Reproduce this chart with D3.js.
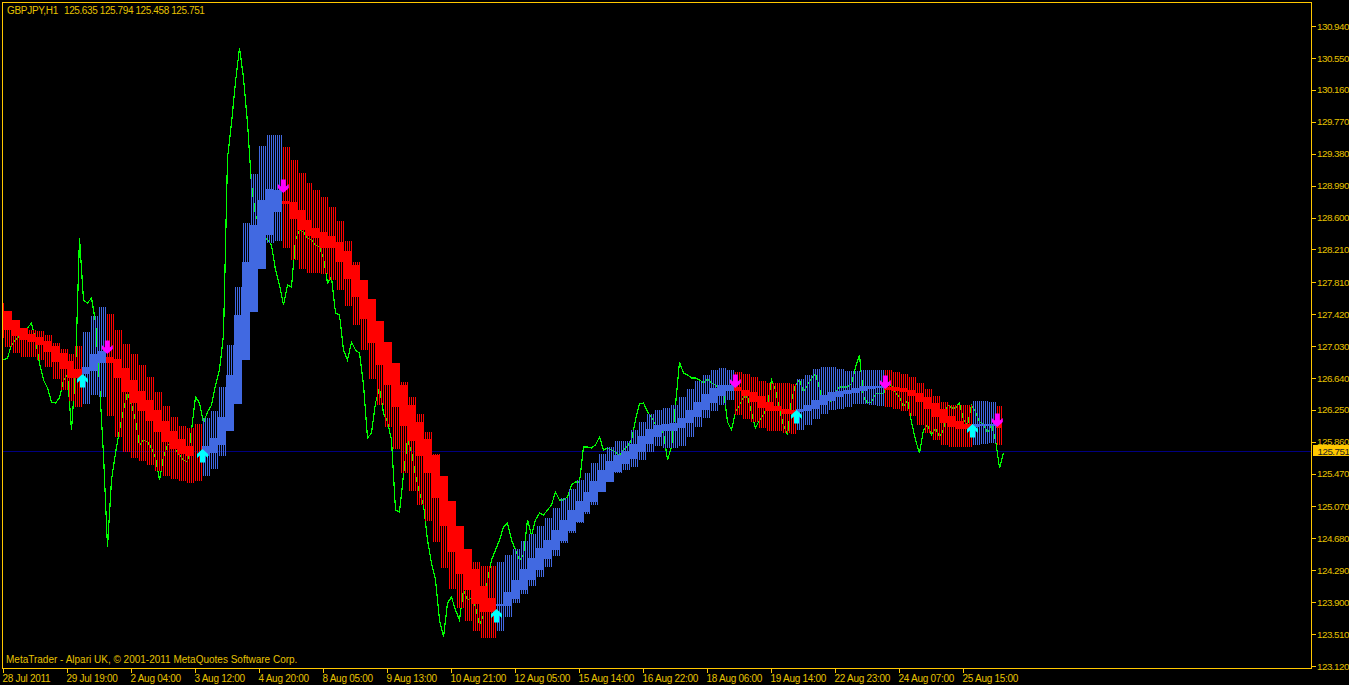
<!DOCTYPE html>
<html>
<head>
<meta charset="utf-8">
<script src="https://cdn.jsdelivr.net/npm/d3@7/dist/d3.min.js"></script>
<style>
html,body{margin:0;padding:0;background:#000;overflow:hidden}
svg{display:block}
text{font-family:"Liberation Sans",Arial,sans-serif;font-size:10px;fill:#e6c200}
.num text,text.num{font-size:9.8px;letter-spacing:-.5px}
.time text{letter-spacing:-.28px}
</style>
</head>
<body>
<svg id="chart" width="1349" height="685"></svg>
<script>
const symbol = "GBPJPY,H1";
const ohlc = "125.635 125.794 125.458 125.751";
const footer = "MetaTrader - Alpari UK, \u00a9 2001-2011 MetaQuotes Software Corp.";
const lastPrice = 125.751;
const priceTicks = [130.94,130.55,130.16,129.77,129.38,128.99,128.6,128.21,127.81,127.42,127.03,126.64,126.25,125.86,125.47,125.07,124.68,124.29,123.9,123.51,123.12];
const timeTicks = ["28 Jul 2011","29 Jul 19:00","2 Aug 04:00","3 Aug 12:00","4 Aug 20:00","8 Aug 05:00","9 Aug 13:00","10 Aug 21:00","12 Aug 05:00","15 Aug 14:00","16 Aug 22:00","18 Aug 06:00","19 Aug 14:00","22 Aug 23:00","24 Aug 07:00","25 Aug 15:00"];
const timeTickBars = [1,33,65,97,129,161,193,225,257,289,321,353,385,417,449,481];

// H1 close, sampled every second bar from bar 1
const closes = [126.859,126.883,127.042,127.103,127.152,127.200,127.250,127.311,127.103,126.822,126.615,126.517,126.346,126.334,126.395,126.615,126.676,126.004,126.737,128.350,
127.592,127.555,127.616,127.323,126.578,125.698,124.574,125.393,125.722,126.004,126.248,126.456,126.309,126.126,125.820,125.881,125.857,125.784,125.662,125.393,
125.674,125.820,125.845,125.759,125.698,125.637,125.613,126.004,126.407,126.334,126.089,126.224,126.309,126.553,126.737,127.164,129.327,129.755,130.256,130.673,
130.305,129.755,128.998,128.631,128.508,128.386,128.325,128.264,127.959,127.775,127.531,127.775,127.751,128.325,128.447,128.423,128.350,128.325,128.264,128.240,
128.105,127.800,127.873,127.433,127.409,126.981,126.859,127.079,126.981,126.944,126.553,125.906,125.967,126.334,126.517,126.211,126.101,125.881,125.026,125.001,
125.454,125.881,125.735,125.454,125.234,125.087,124.659,124.378,124.171,123.682,123.474,123.890,123.963,123.804,123.682,124.049,123.926,123.951,123.841,123.621,
123.743,124.171,124.415,124.537,124.659,124.818,124.867,124.659,124.537,124.415,124.476,124.904,124.720,124.904,124.989,124.965,125.026,125.087,125.246,125.148,
125.148,125.185,125.332,125.368,125.368,125.796,125.796,125.784,125.820,125.918,125.759,125.784,125.759,125.735,125.698,125.759,125.808,125.881,126.126,126.321,
126.334,126.224,126.163,126.065,126.004,125.967,125.637,125.796,126.309,126.834,126.700,126.676,126.639,126.639,126.615,126.578,126.627,126.578,126.553,126.517,
126.492,126.101,126.004,126.224,126.309,126.407,126.407,126.224,126.028,126.126,126.187,126.309,126.615,126.492,126.248,126.065,125.943,126.370,126.553,126.615,
126.468,126.553,126.639,126.688,126.517,126.309,126.407,126.346,126.468,126.529,126.529,126.529,126.566,126.773,126.920,126.407,126.334,126.346,126.444,126.456,
126.444,126.553,126.553,126.456,126.407,126.285,126.370,126.101,125.881,125.722,126.004,126.065,125.943,126.028,125.918,126.004,126.309,126.273,126.273,126.334,
126.126,126.065,126.309,126.224,126.101,126.077,125.967,126.065,125.881,125.539,125.722];

// indicator steps: first H1 bar of each step
const stepBars = [1,2,6,10,14,18,22,26,30,34,37,
41,45,49,
53,57,61,65,69,73,77,81,85,89,93,97,
101,105,109,113,117,121,125,129,133,137,
141,145,149,153,156,160,164,168,172,176,180,184,188,192,196,200,204,208,212,216,220,224,228,232,236,240,244,
248,252,256,260,264,268,272,276,280,284,288,292,295,299,303,307,311,315,319,323,327,331,335,339,343,347,351,355,359,363,
367,371,375,379,383,387,391,395,
398,402,406,410,414,418,422,426,430,434,438,
442,446,450,454,458,462,466,470,474,478,482,
486,490,494,
498];
const lastBar = 501;
const stepTrend = ("d".repeat(11)+"uuu"+"d".repeat(12)+"u".repeat(10)+"d".repeat(27)+"u".repeat(30)+"d".repeat(8)+"u".repeat(11)+"d".repeat(11)+"uuu"+"d").split("");

const bodyHigh = [127.458,127.458,127.348,127.250,127.177,127.140,127.091,127.030,126.944,126.847,126.749,
126.773,126.932,126.969,
126.896,126.871,126.761,126.615,126.480,126.370,126.248,126.114,125.992,125.893,125.808,125.686,
125.808,125.906,126.163,126.676,127.409,128.056,128.508,128.814,128.949,128.936,
128.802,128.790,128.692,128.570,128.472,128.423,128.374,128.301,128.191,128.020,127.836,127.604,127.336,127.079,126.822,126.553,126.309,126.101,125.893,125.698,125.442,125.136,124.831,124.550,124.305,124.098,123.951,
123.878,124.025,124.171,124.305,124.440,124.562,124.659,124.782,124.904,125.026,125.136,125.246,125.380,125.515,125.625,125.698,125.747,125.832,125.930,126.016,126.065,126.077,126.089,126.150,126.248,126.346,126.444,126.517,126.553,126.553,
126.529,126.492,126.468,126.419,126.346,126.297,126.260,126.248,
126.260,126.309,126.370,126.431,126.468,126.480,126.492,126.517,126.541,126.541,126.541,
126.529,126.529,126.517,126.492,126.456,126.407,126.334,126.260,126.175,126.114,126.077,
126.077,126.077,126.077,
126.089];
const bodyLow = [127.225,127.225,127.152,127.103,127.079,127.042,126.957,126.835,126.749,126.639,126.639,
126.688,126.725,126.822,
126.822,126.639,126.468,126.334,126.236,126.114,125.979,125.857,125.771,125.710,125.686,125.686,
125.686,125.722,125.820,125.992,126.321,126.859,127.446,127.971,128.386,128.667,
128.765,128.582,128.447,128.374,128.350,128.228,128.228,128.056,127.849,127.629,127.360,127.067,126.798,126.553,126.285,126.053,125.869,125.686,125.478,125.173,124.831,124.513,124.244,124.049,123.878,123.780,123.780,
123.853,123.853,123.939,124.049,124.171,124.293,124.428,124.537,124.647,124.770,124.880,125.001,125.124,125.246,125.368,125.490,125.588,125.649,125.735,125.832,125.918,125.992,125.992,126.028,126.089,126.163,126.248,126.334,126.419,126.480,
126.480,126.419,126.346,126.273,126.236,126.236,126.199,126.199,
126.224,126.236,126.260,126.309,126.358,126.407,126.444,126.456,126.480,126.505,126.517,
126.492,126.480,126.468,126.419,126.346,126.260,126.163,126.089,126.041,126.016,126.016,
126.041,126.053,126.053,
126.028];
const bandHigh = [127.556,127.409,127.323,127.225,127.225,127.213,127.164,127.067,126.993,126.932,127.030,
127.200,127.397,127.507,
127.421,127.225,127.055,126.932,126.798,126.651,126.468,126.297,126.163,126.053,126.028,126.077,
126.150,126.236,126.529,127.042,127.751,128.533,129.132,129.474,129.608,129.608,
129.462,129.303,129.144,129.022,128.936,128.851,128.729,128.558,128.313,128.056,127.775,127.531,127.225,126.981,126.737,126.590,126.407,126.199,125.979,125.710,125.393,125.026,124.782,124.537,124.391,124.342,124.342,
124.391,124.476,124.550,124.647,124.733,124.831,124.929,125.051,125.173,125.283,125.393,125.478,125.601,125.710,125.796,125.869,125.869,126.004,126.101,126.199,126.248,126.273,126.309,126.407,126.505,126.603,126.676,126.737,126.761,126.737,
126.712,126.688,126.651,126.603,126.578,126.578,126.578,126.566,
126.627,126.676,126.749,126.773,126.773,126.749,126.725,126.725,126.737,126.737,126.737,
126.737,126.712,126.688,126.651,126.578,126.505,126.419,126.346,126.309,126.309,126.309,
126.358,126.358,126.346,
126.297];
const bandLow = [127.128,127.018,126.944,126.896,126.896,126.859,126.773,126.627,126.492,126.358,126.285,
126.321,126.431,126.407,
126.175,125.918,125.735,125.662,125.625,125.576,125.503,125.442,125.405,125.381,125.356,125.381,
125.442,125.527,125.686,125.992,126.321,126.859,127.446,127.971,128.289,128.313,
128.228,128.081,127.971,127.922,127.922,127.910,127.836,127.714,127.519,127.287,126.981,126.627,126.309,126.041,125.771,125.478,125.258,125.087,124.892,124.635,124.318,124.061,123.829,123.670,123.548,123.462,123.462,
123.548,123.719,123.890,124.000,124.098,124.208,124.330,124.464,124.623,124.745,124.867,124.977,125.087,125.246,125.393,125.478,125.515,125.552,125.637,125.735,125.808,125.784,125.784,125.808,125.918,126.041,126.150,126.236,126.309,126.370,
126.187,126.138,126.101,126.028,125.992,125.992,125.967,125.955,
126.004,126.065,126.138,126.199,126.248,126.260,126.285,126.321,126.321,126.309,126.297,
126.285,126.260,126.236,126.175,126.065,125.967,125.881,125.820,125.796,125.796,125.796,
125.820,125.832,125.845,
125.820];

const buyBars = [41,101,248,398,486];
const buyPrices = [126.688,125.771,123.817,126.248,126.077];
const sellBars = [53,141,367,442,498];
const sellPrices = [126.932,128.900,126.517,126.505,126.041];

const GOLD = "#ffc800", RED = "#ff0000", BLUE = "#4169e1", GREEN = "#00ff00", NAVY = "#000080";
const trendColor = {d: RED, u: BLUE};

const svg = d3.select("#chart");
const x = d3.scaleLinear().domain([0, 654]).range([1, 1309]);
const y = d3.scaleLinear().domain([123.12, 130.94]).range([666, 26]);
const py = p => Math.round(y(p));

const steps = stepBars.map((b, i) => ({
  bar: b,
  next: i + 1 < stepBars.length ? stepBars[i + 1] : lastBar,
  trend: stepTrend[i],
  bodyHigh: bodyHigh[i], bodyLow: bodyLow[i],
  bandHigh: bandHigh[i], bandLow: bandLow[i]
}));

// current price line
svg.append("line")
  .attr("x1", 3).attr("x2", 1311)
  .attr("y1", py(lastPrice) + .5).attr("y2", py(lastPrice) + .5)
  .attr("stroke", NAVY).attr("shape-rendering", "crispEdges");

// close line
const line = d3.line().x((d, i) => x(1 + 2 * i) + .5).y(d => y(d));
svg.append("path").datum(closes)
  .attr("d", line).attr("fill", "none")
  .attr("stroke", GREEN).attr("stroke-width", 1.2)
  .attr("shape-rendering", "crispEdges");

// hatched envelope: one stroke per bar
const hatch = steps.flatMap(s => d3.range(s.bar, s.next).map(b => ({bar: b, s})));
svg.append("g").attr("shape-rendering", "crispEdges")
  .selectAll("rect").data(hatch).join("rect")
  .attr("x", d => x(d.bar)).attr("width", 1)
  .attr("y", d => py(d.s.bandHigh))
  .attr("height", d => py(d.s.bandLow) - py(d.s.bandHigh))
  .attr("fill", d => trendColor[d.s.trend]);

// indicator body
svg.append("g").attr("shape-rendering", "crispEdges")
  .selectAll("rect").data(steps).join("rect")
  .attr("x", d => x(d.bar) - 1)
  .attr("width", d => x(d.next) - x(d.bar))
  .attr("y", d => py(d.bodyHigh))
  .attr("height", d => py(d.bodyLow) - py(d.bodyHigh))
  .attr("fill", d => trendColor[d.trend]);

// arrows, tip at the origin
const upArrow = "M0,0L5.5,5V9L2.5,6.5V13.5H-2.5V6.5L-5.5,9V5Z";
const downArrow = "M0,0L5.5,-5V-9L2.5,-6.5V-13.5H-2.5V-6.5L-5.5,-9V-5Z";
svg.append("g").selectAll("path").data(buyBars).join("path")
  .attr("d", upArrow).attr("fill", "#00ffff")
  .attr("transform", (d, i) => `translate(${x(d) - .5},${y(buyPrices[i])})`);
svg.append("g").selectAll("path").data(sellBars).join("path")
  .attr("d", downArrow).attr("fill", "#ff00ff")
  .attr("transform", (d, i) => `translate(${x(d) + .3},${y(sellPrices[i])})`);

// frame
svg.append("rect").attr("x", 2.5).attr("y", 2.5).attr("width", 1309).attr("height", 666)
  .attr("fill", "none").attr("stroke", GOLD).attr("shape-rendering", "crispEdges");

// price axis
const yAxis = d3.axisRight(y).tickValues(priceTicks).tickFormat(d3.format(".3f")).tickSize(4).tickPadding(1.5);
const gy = svg.append("g").attr("class", "num").attr("transform", "translate(1311.5,0)").call(yAxis);
// time axis
const xAxis = d3.axisBottom(x).tickValues(timeTickBars).tickFormat((d, i) => timeTicks[i]).tickSize(4).tickPadding(2);
const gx = svg.append("g").attr("class", "time").attr("transform", "translate(0,668.5)").call(xAxis);
gx.selectAll("text").attr("text-anchor", "start").attr("dx", -1);
gy.select(".domain").remove(); gx.select(".domain").remove();
svg.selectAll(".tick line").attr("stroke", GOLD).attr("shape-rendering", "crispEdges");
svg.selectAll(".tick text").attr("fill", "#e6c200");

// current price tag
svg.append("rect").attr("x", 1313).attr("y", py(lastPrice) - 6).attr("width", 36).attr("height", 11).attr("fill", GOLD);
svg.append("text").attr("class", "num").attr("x", 1317.5).attr("y", py(lastPrice) + 3.5).style("fill", "#222").text(d3.format(".3f")(lastPrice));

// captions
svg.append("text").attr("x", 7).attr("y", 14).style("letter-spacing", "-.3px").text(symbol);
svg.append("text").attr("x", 64).attr("y", 14).style("letter-spacing", "-.4px").text(ohlc);
svg.append("text").attr("x", 6).attr("y", 663).text(footer);
</script>
</body>
</html>
